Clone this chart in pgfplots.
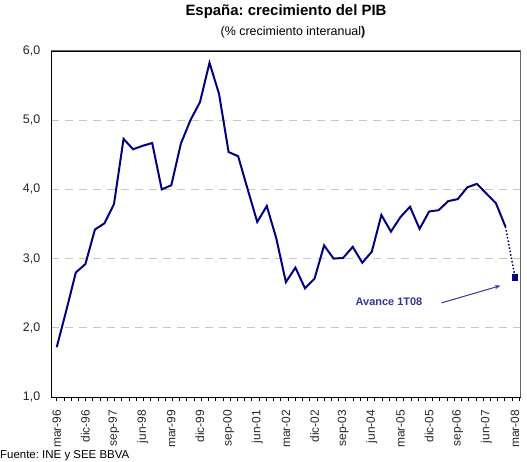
\documentclass[border=0pt]{standalone}
\usepackage{pgfplots}
\pgfplotsset{compat=1.18}
\usepackage{fontspec}
\setmainfont{Liberation Sans}
\usetikzlibrary{arrows.meta}
\definecolor{navyline}{HTML}{000080}
\definecolor{annot}{HTML}{333399}
\begin{document}
\frenchspacing
\begin{tikzpicture}
\useasboundingbox (0,0) rectangle (527bp,462bp);
\begin{axis}[
  at={(51bp,65bp)}, anchor=south west,
  scale only axis, width=469bp, height=346bp,
  xmin=-0.6, xmax=48.52, ymin=1, ymax=6,
  ytick={1,2,...,6},
  /pgf/number format/use comma,
  /pgf/number format/fixed,
  /pgf/number format/fixed zerofill,
  /pgf/number format/precision=1,
  /pgf/number format/assume math mode=true,
  yticklabel style={font=\fontsize{12.5}{14}\selectfont, xshift=-3bp, text=black!85},
  ytick style={draw=none},
  ymajorgrids,
  grid style={black!22, line width=1bp, dash pattern=on 8bp off 6bp},
  xtick={0,3,...,48},
  xticklabels={mar-96,dic-96,sep-97,jun-98,mar-99,dic-99,sep-00,jun-01,mar-02,dic-02,sep-03,jun-04,mar-05,dic-05,sep-06,jun-07,mar-08},
  xticklabel style={yshift=-5bp, rotate=90, anchor=east, font=\fontsize{12}{14}\selectfont, text=black!85},
  major x tick style={draw=none},
  minor xtick={0,0.757,...,48.5},
  minor x tick style={black, line width=0.8bp},
  minor tick length=4bp,
  tick align=outside,
  xtick pos=bottom,
  axis line style={black, line width=1bp},
  clip=false,
]
\addplot[navyline, line width=2pt, mark=none] table {
0 1.72
1 2.25
2 2.80
3 2.92
4 3.42
5 3.51
6 3.79
7 4.73
8 4.58
9 4.63
10 4.67
11 4.00
12 4.06
13 4.66
14 5.00
15 5.26
16 5.83
17 5.38
18 4.54
19 4.48
20 4.00
21 3.53
22 3.76
23 3.29
24 2.66
25 2.87
26 2.57
27 2.71
28 3.19
29 3.00
30 3.01
31 3.17
32 2.94
33 3.10
34 3.63
35 3.39
36 3.60
37 3.75
38 3.43
39 3.68
40 3.70
41 3.83
42 3.86
43 4.03
44 4.08
45 3.94
46 3.80
47 3.46
};
\addplot[navyline, line width=1.5pt, dotted, mark=none] coordinates {(47,3.46) (48,2.73)};
\addplot[navyline, only marks, mark=square*, mark size=2.6pt] coordinates {(48,2.73)};
\node[annot, font=\bfseries\fontsize{11}{13}\selectfont] at (axis cs:34.8,2.38) {Avance 1T08};
\draw[annot, line width=1bp, -{Stealth[length=6bp,width=4bp]}] (axis cs:40.3,2.36) -- (axis cs:46.5,2.61);
\end{axis}
\draw[black!60, line width=1bp] (51bp,411bp) -- (520bp,411bp) -- (520bp,65bp);
\node[font=\bfseries\fontsize{15}{17}\selectfont] at (286bp,450bp) {España: crecimiento del PIB};
\node[font=\fontsize{12.5}{14}\selectfont] at (293bp,430bp) {(\% crecimiento interanual\textbf{)}};
\node[anchor=west, inner sep=0pt, font=\fontsize{11.5}{13}\selectfont] at (0bp,6bp) {Fuente: INE y SEE BBVA};
\end{tikzpicture}
\end{document}
